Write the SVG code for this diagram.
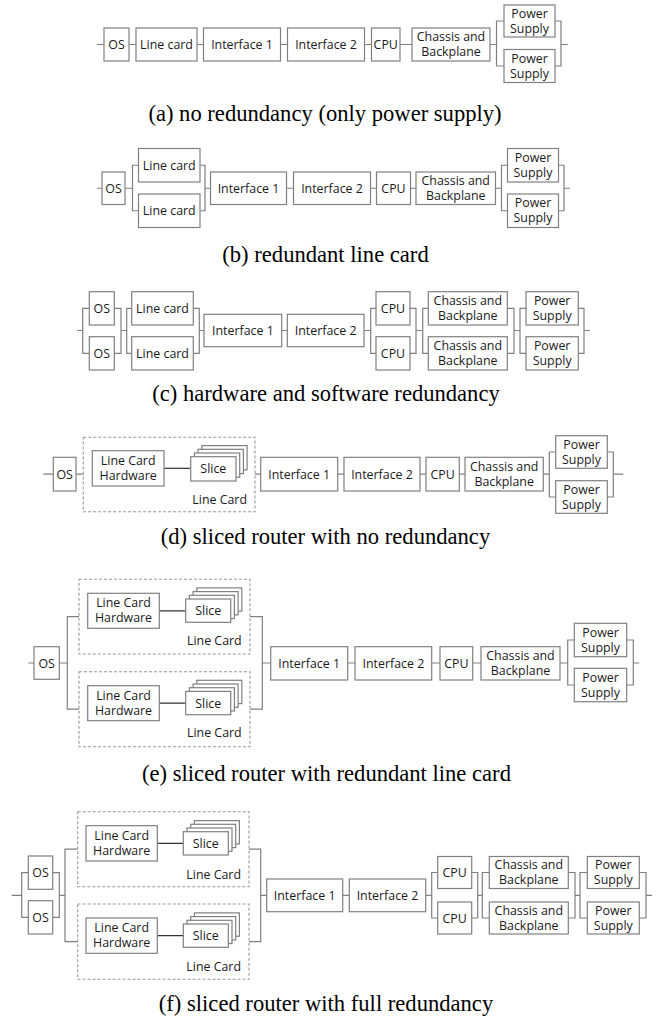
<svg xmlns="http://www.w3.org/2000/svg" width="659" height="1022" viewBox="0 0 659 1022">
  <style>
    .b { fill: #fff; stroke: #808080; stroke-width: 1.2; }
    .w { fill: none; stroke: #808080; stroke-width: 1.2; }
    .k { fill: none; stroke: #333; stroke-width: 1.2; }
    .d { fill: none; stroke: #999; stroke-width: 1.1; stroke-dasharray: 3 2; }
    .t { font-family: "Open Sans", "Liberation Sans", sans-serif; font-size: 12.4px; fill: #1a1a1a; text-anchor: middle; }
    .e { text-anchor: end; }
    .cap { font-family: "Liberation Serif", "Times New Roman", serif; font-size: 22.6px; fill: #000; text-anchor: middle; }
  </style>
  <rect width="659" height="1022" fill="#fff"/>

  <!-- connectors -->
  <g id="connectors">
    <!-- (a) -->
    <path class="w" d="M97,44.5H104 M129,44.5H136 M197,44.5H203.5 M280.5,44.5H287.5 M364.5,44.5H371.5 M400,44.5H412 M490,44.5H496.5 M504,21H496.5V66H504 M555,21H561V66H555 M561,44.5H568"/>
    <!-- (b) -->
    <path class="w" d="M97,188.25H102 M125,188.25H132.5 M138.5,165.25H132.5V210.75H138.5 M200,165.25H205V210.75H200 M205,188.25H210.5 M286.5,188.25H293.5 M370.5,188.25H376.5 M410.5,188.25H416 M495.5,188.25H501.5 M507.5,165.25H501.5V210.75H507.5 M558.5,165.25H564V210.75H558.5 M564,188.25H570"/>
    <!-- (c) -->
    <path class="w" d="M77,330.5H82.7 M89.3,308.3H82.7V353.3H89.3 M114.3,308.3H121V353.3H114.3 M121,330.5H126.7 M131.7,308.3H126.7V353.3H131.7 M193.3,308.3H199.3V353.3H193.3 M199.3,330.5H204 M281.7,330.5H287.3 M364,330.5H370.7 M376,308.3H370.7V353.3H376 M410,308.3H416V353.3H410 M416,330.5H422.7 M428.3,308.3H422.7V353.3H428.3 M507.3,308.3H514V353.3H507.3 M514,330.5H520 M526,308.3H520V353.3H526 M578.3,308.3H584V353.3H578.3 M584,330.5H590"/>
    <!-- (d) -->
    <path class="w" d="M43.3,474.2H53.3 M76,474.2H83.3 M255,474.2H260.7 M337.7,474.2H344 M420,474.2H426 M459.3,474.2H465 M543.3,474.2H549.3 M555.7,452H549.3V497H555.7 M607.3,452H613.3V497H607.3 M613.3,474.2H623.3"/>
    <path class="k" d="M164,468.3H190.7"/>
    <!-- (e) -->
    <path class="w" d="M28.3,663H34 M59.3,663H67.3 M79,616.7H67.3V709.2H79 M250,616.7H262.3V709.2H250 M262.3,663H270.7 M347.7,663H355 M431.7,663H440 M472.7,663H481 M560,663H567.7 M574.3,640H567.7V685H574.3 M626.7,640H633.3V685H626.7 M633.3,663H639.3"/>
    <path class="k" d="M159.3,610.8H185.7 M159.3,703.2H185.7"/>
    <!-- (f) -->
    <path class="w" d="M11.7,895.3H21.7 M28.3,872.7H21.7V917.3H28.3 M52.7,872.7H59.3V917.3H52.7 M59.3,895.3H65 M77.7,849.2H65V941.7H77.7 M249,849.2H260.7V941.7H249 M260.7,895.3H266.7 M342.7,895.3H349.3 M425.7,895.3H431.7 M437.7,872.5H431.7V918H437.7 M471.7,872.5H477.7V918H471.7 M477.7,895.3H482.3 M489.3,872.5H482.3V918H489.3 M568.3,872.5H575V918H568.3 M575,895.3H580 M587.3,872.5H580V918H587.3 M639.3,872.5H646V918H639.3 M646,895.3H652"/>
    <path class="k" d="M157.3,843.35H183.3 M157.3,935.65H183.3"/>
  </g>

  <!-- (a) no redundancy -->
  <g id="a-os"><rect class="b" x="104" y="28" width="25" height="33"/><text class="t" x="116.5" y="49">OS</text></g>
  <g id="a-linecard"><rect class="b" x="136" y="28" width="61" height="33"/><text class="t" x="166.5" y="49">Line card</text></g>
  <g id="a-if1"><rect class="b" x="203.5" y="28" width="77" height="33"/><text class="t" x="242" y="49">Interface 1</text></g>
  <g id="a-if2"><rect class="b" x="287.5" y="28" width="77" height="33"/><text class="t" x="326" y="49">Interface 2</text></g>
  <g id="a-cpu"><rect class="b" x="371.5" y="28" width="28.5" height="33"/><text class="t" x="385.75" y="49">CPU</text></g>
  <g id="a-chassis"><rect class="b" x="412" y="28" width="78" height="33"/><text class="t" x="451" y="41">Chassis and</text><text class="t" x="451" y="56">Backplane</text></g>
  <g id="a-psu1"><rect class="b" x="504" y="5" width="51" height="32"/><text class="t" x="529.5" y="17.5">Power</text><text class="t" x="529.5" y="32.5">Supply</text></g>
  <g id="a-psu2"><rect class="b" x="504" y="49.5" width="51" height="33"/><text class="t" x="529.5" y="62.5">Power</text><text class="t" x="529.5" y="77.5">Supply</text></g>
  <text class="cap" x="325" y="121">(a) no redundancy (only power supply)</text>

  <!-- (b) redundant line card -->
  <g id="b-os"><rect class="b" x="102" y="172" width="23" height="32.5"/><text class="t" x="113.5" y="192.75">OS</text></g>
  <g id="b-linecard1"><rect class="b" x="138.5" y="148.5" width="61.5" height="33.5"/><text class="t" x="169.25" y="169.75">Line card</text></g>
  <g id="b-linecard2"><rect class="b" x="138.5" y="194" width="61.5" height="33.5"/><text class="t" x="169.25" y="215.25">Line card</text></g>
  <g id="b-if1"><rect class="b" x="210.5" y="172" width="76" height="32.5"/><text class="t" x="248.5" y="192.75">Interface 1</text></g>
  <g id="b-if2"><rect class="b" x="293.5" y="172" width="77" height="32.5"/><text class="t" x="332" y="192.75">Interface 2</text></g>
  <g id="b-cpu"><rect class="b" x="376.5" y="172" width="34" height="32.5"/><text class="t" x="393.5" y="192.75">CPU</text></g>
  <g id="b-chassis"><rect class="b" x="416" y="172" width="79.5" height="32.5"/><text class="t" x="455.75" y="184.75">Chassis and</text><text class="t" x="455.75" y="199.75">Backplane</text></g>
  <g id="b-psu1"><rect class="b" x="507.5" y="148.5" width="51" height="33.5"/><text class="t" x="533" y="161.75">Power</text><text class="t" x="533" y="176.75">Supply</text></g>
  <g id="b-psu2"><rect class="b" x="507.5" y="194" width="51" height="33.5"/><text class="t" x="533" y="207.25">Power</text><text class="t" x="533" y="222.25">Supply</text></g>
  <text class="cap" x="325.5" y="262">(b) redundant line card</text>

  <!-- (c) hardware and software redundancy -->
  <g id="c-os1"><rect class="b" x="89.3" y="291.7" width="25" height="33.3"/><text class="t" x="101.8" y="312.8">OS</text></g>
  <g id="c-os2"><rect class="b" x="89.3" y="336.7" width="25" height="33.3"/><text class="t" x="101.8" y="357.8">OS</text></g>
  <g id="c-linecard1"><rect class="b" x="131.7" y="291.7" width="61.6" height="33.3"/><text class="t" x="162.5" y="312.8">Line card</text></g>
  <g id="c-linecard2"><rect class="b" x="131.7" y="336.7" width="61.6" height="33.3"/><text class="t" x="162.5" y="357.8">Line card</text></g>
  <g id="c-if1"><rect class="b" x="204" y="314.3" width="77.7" height="32.4"/><text class="t" x="242.85" y="335">Interface 1</text></g>
  <g id="c-if2"><rect class="b" x="287.3" y="314.3" width="76.7" height="32.4"/><text class="t" x="325.65" y="335">Interface 2</text></g>
  <g id="c-cpu1"><rect class="b" x="376" y="291.7" width="34" height="33.3"/><text class="t" x="393" y="312.8">CPU</text></g>
  <g id="c-cpu2"><rect class="b" x="376" y="336.7" width="34" height="33.3"/><text class="t" x="393" y="357.8">CPU</text></g>
  <g id="c-chassis1"><rect class="b" x="428.3" y="291.7" width="79" height="33.3"/><text class="t" x="467.8" y="304.8">Chassis and</text><text class="t" x="467.8" y="319.8">Backplane</text></g>
  <g id="c-chassis2"><rect class="b" x="428.3" y="336.7" width="79" height="33.3"/><text class="t" x="467.8" y="349.8">Chassis and</text><text class="t" x="467.8" y="364.8">Backplane</text></g>
  <g id="c-psu1"><rect class="b" x="526" y="291.7" width="52.3" height="33.3"/><text class="t" x="552.15" y="304.8">Power</text><text class="t" x="552.15" y="319.8">Supply</text></g>
  <g id="c-psu2"><rect class="b" x="526" y="336.7" width="52.3" height="33.3"/><text class="t" x="552.15" y="349.8">Power</text><text class="t" x="552.15" y="364.8">Supply</text></g>
  <text class="cap" x="326" y="401">(c) hardware and software redundancy</text>

  <!-- (d) sliced router, no redundancy -->
  <g id="d-os"><rect class="b" x="53.3" y="457.3" width="22.7" height="33.7"/><text class="t" x="64.65" y="478.7">OS</text></g>
  <g id="d-linecard">
    <rect class="d" x="83.3" y="437.3" width="171.7" height="74.4"/>
    <rect class="b" x="92.3" y="450.7" width="71.7" height="35.3"/>
    <text class="t" x="128.15" y="464.8">Line Card</text><text class="t" x="128.15" y="479.8">Hardware</text>
    <rect class="b" x="201.8" y="445.6" width="45.3" height="24.3"/>
    <rect class="b" x="198.1" y="449.3" width="45.3" height="24.3"/>
    <rect class="b" x="194.4" y="453" width="45.3" height="24.3"/>
    <rect class="b" x="190.7" y="456.7" width="45.3" height="24.3"/>
    <text class="t" x="213.35" y="473.35">Slice</text>
    <text class="t e" x="247" y="504">Line Card</text>
  </g>
  <g id="d-if1"><rect class="b" x="260.7" y="457.3" width="77" height="33.7"/><text class="t" x="299.2" y="478.7">Interface 1</text></g>
  <g id="d-if2"><rect class="b" x="344" y="457.3" width="76" height="33.7"/><text class="t" x="382" y="478.7">Interface 2</text></g>
  <g id="d-cpu"><rect class="b" x="426" y="457.3" width="33.3" height="33.7"/><text class="t" x="442.65" y="478.7">CPU</text></g>
  <g id="d-chassis"><rect class="b" x="465" y="457.3" width="78.3" height="33.7"/><text class="t" x="504.15" y="470.7">Chassis and</text><text class="t" x="504.15" y="485.7">Backplane</text></g>
  <g id="d-psu1"><rect class="b" x="555.7" y="435.7" width="51.6" height="32.6"/><text class="t" x="581.5" y="448.5">Power</text><text class="t" x="581.5" y="463.5">Supply</text></g>
  <g id="d-psu2"><rect class="b" x="555.7" y="480.7" width="51.6" height="32.6"/><text class="t" x="581.5" y="493.5">Power</text><text class="t" x="581.5" y="508.5">Supply</text></g>
  <text class="cap" x="325.5" y="544">(d) sliced router with no redundancy</text>

  <!-- (e) sliced router, redundant line card -->
  <g id="e-os"><rect class="b" x="34" y="646.7" width="25.3" height="32.6"/><text class="t" x="46.65" y="667.5">OS</text></g>
  <g id="e-linecard1">
    <rect class="d" x="79" y="579.3" width="171" height="74.7"/>
    <rect class="b" x="87.7" y="593.3" width="71.6" height="35"/>
    <text class="t" x="123.5" y="607.3">Line Card</text><text class="t" x="123.5" y="622.3">Hardware</text>
    <rect class="b" x="196.8" y="587.9" width="45" height="23.3"/>
    <rect class="b" x="193.1" y="591.6" width="45" height="23.3"/>
    <rect class="b" x="189.4" y="595.3" width="45" height="23.3"/>
    <rect class="b" x="185.7" y="599" width="45" height="23.3"/>
    <text class="t" x="208.2" y="615.15">Slice</text>
    <text class="t e" x="241.7" y="645">Line Card</text>
  </g>
  <g id="e-linecard2">
    <rect class="d" x="79" y="671.7" width="171" height="75"/>
    <rect class="b" x="87.7" y="685.7" width="71.6" height="35"/>
    <text class="t" x="123.5" y="699.7">Line Card</text><text class="t" x="123.5" y="714.7">Hardware</text>
    <rect class="b" x="196.8" y="680.3" width="45" height="23.3"/>
    <rect class="b" x="193.1" y="684" width="45" height="23.3"/>
    <rect class="b" x="189.4" y="687.7" width="45" height="23.3"/>
    <rect class="b" x="185.7" y="691.4" width="45" height="23.3"/>
    <text class="t" x="208.2" y="707.55">Slice</text>
    <text class="t e" x="241.7" y="737.4">Line Card</text>
  </g>
  <g id="e-if1"><rect class="b" x="270.7" y="646.7" width="77" height="33.3"/><text class="t" x="309.2" y="667.5">Interface 1</text></g>
  <g id="e-if2"><rect class="b" x="355" y="646.7" width="76.7" height="33.3"/><text class="t" x="393.35" y="667.5">Interface 2</text></g>
  <g id="e-cpu"><rect class="b" x="440" y="646.7" width="32.7" height="33.3"/><text class="t" x="456.35" y="667.5">CPU</text></g>
  <g id="e-chassis"><rect class="b" x="481" y="646.7" width="79" height="33.3"/><text class="t" x="520.5" y="659.5">Chassis and</text><text class="t" x="520.5" y="674.5">Backplane</text></g>
  <g id="e-psu1"><rect class="b" x="574.3" y="623.3" width="52.4" height="33.4"/><text class="t" x="600.5" y="636.5">Power</text><text class="t" x="600.5" y="651.5">Supply</text></g>
  <g id="e-psu2"><rect class="b" x="574.3" y="668.3" width="52.4" height="33.4"/><text class="t" x="600.5" y="681.5">Power</text><text class="t" x="600.5" y="696.5">Supply</text></g>
  <text class="cap" x="326.5" y="781">(e) sliced router with redundant line card</text>

  <!-- (f) sliced router, full redundancy -->
  <g id="f-os1"><rect class="b" x="28.3" y="856" width="24.4" height="33.3"/><text class="t" x="40.5" y="877.15">OS</text></g>
  <g id="f-os2"><rect class="b" x="28.3" y="900.7" width="24.4" height="33.3"/><text class="t" x="40.5" y="921.85">OS</text></g>
  <g id="f-linecard1">
    <rect class="d" x="77.7" y="811.7" width="171.3" height="75"/>
    <rect class="b" x="86" y="825.7" width="71.3" height="35.3"/>
    <text class="t" x="121.65" y="839.85">Line Card</text><text class="t" x="121.65" y="854.85">Hardware</text>
    <rect class="b" x="194.4" y="820.6" width="45" height="23.3"/>
    <rect class="b" x="190.7" y="824.3" width="45" height="23.3"/>
    <rect class="b" x="187" y="828" width="45" height="23.3"/>
    <rect class="b" x="183.3" y="831.7" width="45" height="23.3"/>
    <text class="t" x="205.8" y="847.85">Slice</text>
    <text class="t e" x="241" y="879">Line Card</text>
  </g>
  <g id="f-linecard2">
    <rect class="d" x="77.7" y="904" width="171.3" height="75.3"/>
    <rect class="b" x="86" y="918" width="71.3" height="35.3"/>
    <text class="t" x="121.65" y="932.15">Line Card</text><text class="t" x="121.65" y="947.15">Hardware</text>
    <rect class="b" x="194.4" y="912.9" width="45" height="23.3"/>
    <rect class="b" x="190.7" y="916.6" width="45" height="23.3"/>
    <rect class="b" x="187" y="920.3" width="45" height="23.3"/>
    <rect class="b" x="183.3" y="924" width="45" height="23.3"/>
    <text class="t" x="205.8" y="940.15">Slice</text>
    <text class="t e" x="241" y="971.3">Line Card</text>
  </g>
  <g id="f-if1"><rect class="b" x="266.7" y="879" width="76" height="32.7"/><text class="t" x="304.7" y="899.8">Interface 1</text></g>
  <g id="f-if2"><rect class="b" x="349.3" y="879" width="76.4" height="32.7"/><text class="t" x="387.5" y="899.8">Interface 2</text></g>
  <g id="f-cpu1"><rect class="b" x="437.7" y="856.5" width="34" height="32"/><text class="t" x="454.7" y="877">CPU</text></g>
  <g id="f-cpu2"><rect class="b" x="437.7" y="902" width="34" height="32"/><text class="t" x="454.7" y="922.5">CPU</text></g>
  <g id="f-chassis1"><rect class="b" x="489.3" y="856.5" width="79" height="32"/><text class="t" x="528.8" y="869">Chassis and</text><text class="t" x="528.8" y="884">Backplane</text></g>
  <g id="f-chassis2"><rect class="b" x="489.3" y="902" width="79" height="32"/><text class="t" x="528.8" y="914.5">Chassis and</text><text class="t" x="528.8" y="929.5">Backplane</text></g>
  <g id="f-psu1"><rect class="b" x="587.3" y="856.5" width="52" height="32"/><text class="t" x="613.3" y="869">Power</text><text class="t" x="613.3" y="884">Supply</text></g>
  <g id="f-psu2"><rect class="b" x="587.3" y="902" width="52" height="32"/><text class="t" x="613.3" y="914.5">Power</text><text class="t" x="613.3" y="929.5">Supply</text></g>
  <text class="cap" x="326" y="1011">(f) sliced router with full redundancy</text>
</svg>
